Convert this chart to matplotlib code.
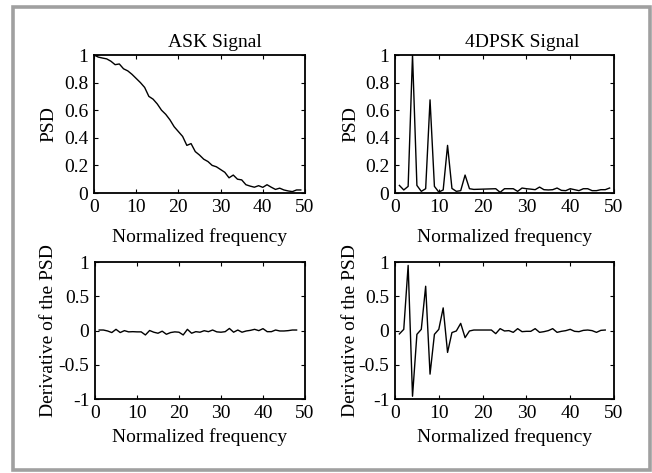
import matplotlib
matplotlib.use("Agg")
import matplotlib.pyplot as plt
from matplotlib.patches import Rectangle

plt.rcParams["font.family"] = ["Liberation Serif", "DejaVu Serif"]
plt.rcParams["font.size"] = 14
plt.rcParams["axes.unicode_minus"] = False

# ASK signal PSD (x = 0..49)
ask_x = list(range(0, 50))
ask_psd = [1.00, 0.985, 0.978, 0.972, 0.955, 0.93, 0.935, 0.90, 0.885, 0.86,
           0.83, 0.80, 0.765, 0.70, 0.68, 0.645, 0.60, 0.57, 0.53, 0.48,
           0.445, 0.41, 0.345, 0.358, 0.30, 0.275, 0.245, 0.228, 0.20, 0.19,
           0.17, 0.15, 0.11, 0.13, 0.10, 0.095, 0.06, 0.05, 0.042, 0.053,
           0.041, 0.06, 0.042, 0.026, 0.035, 0.022, 0.015, 0.01, 0.022, 0.022]

# ASK derivative (x = 1..48)
ask_dx = list(range(1, 49))
ask_deriv = [0.007, 0.007, -0.007, -0.03, 0.017, -0.03, -0.002, -0.02, -0.017, -0.02,
             -0.02, -0.065, 0.0, -0.025, -0.04, -0.01, -0.055, -0.03, -0.02, -0.025,
             -0.065, 0.017, -0.04, -0.017, -0.025, -0.003, -0.017, 0.007, -0.02, -0.025,
             -0.017, 0.03, -0.025, 0.007, -0.025, -0.007, 0.002, 0.017, -0.002, 0.027,
             -0.017, -0.017, 0.007, -0.007, -0.007, -0.002, 0.007, 0.007]

# 4DPSK signal PSD (x = 1..49)
dpsk_x = list(range(1, 50))
dpsk_psd = [0.055, 0.022, 0.048, 1.0, 0.055, 0.012, 0.031, 0.675, 0.048, 0.007,
            0.022, 0.345, 0.033, 0.012, 0.017, 0.13, 0.031, 0.026, 0.027, 0.028,
            0.029, 0.03, 0.031, 0.005, 0.031, 0.031, 0.031, 0.012, 0.036, 0.031,
            0.028, 0.024, 0.043, 0.024, 0.022, 0.024, 0.036, 0.019, 0.017, 0.031,
            0.024, 0.017, 0.031, 0.031, 0.017, 0.017, 0.024, 0.024, 0.036]

# 4DPSK derivative (x = 1..48)
dpsk_dx = list(range(1, 49))
dpsk_deriv = [-0.05, 0.017, 0.95, -0.96, -0.056, 0.017, 0.646, -0.637, -0.056, 0.017,
              0.33, -0.32, -0.03, -0.007, 0.104, -0.104, -0.007, 0.007, 0.007, 0.007,
              0.007, 0.007, -0.046, 0.027, -0.007, -0.002, -0.027, 0.027, -0.017, -0.012,
              -0.012, 0.027, -0.027, -0.017, -0.002, 0.027, -0.027, -0.012, -0.002, 0.017,
              -0.012, -0.017, 0.002, 0.007, -0.002, -0.027, 0.002, 0.007]

psd_ticks = [0, 0.2, 0.4, 0.6, 0.8, 1]
psd_labels = ["0", "0.2", "0.4", "0.6", "0.8", "1"]
der_ticks = [-1, -0.5, 0, 0.5, 1]
der_labels = ["-1", "-0.5", "0", "0.5", "1"]
x_ticks = [0, 10, 20, 30, 40, 50]

W, H = 652, 473
fig = plt.figure(figsize=(W / 100, H / 100), dpi=100)

def box(l, r, t, b):
    return [l / W, 1 - b / H, (r - l) / W, (b - t) / H]

ax_tl = fig.add_axes(box(94, 305, 55, 193))
ax_tr = fig.add_axes(box(395, 614, 55, 193))
ax_bl = fig.add_axes(box(95, 305, 262, 399))
ax_br = fig.add_axes(box(395, 614, 262, 399))

def style(ax, yticks, ylabels, ylim, ylabel, xpad, ypad):
    ax.set_xlim(0, 50)
    ax.set_ylim(*ylim)
    ax.set_xticks(x_ticks)
    ax.set_yticks(yticks)
    ax.set_yticklabels(ylabels)
    ax.tick_params(direction="in", top=True, right=True, length=3, width=0.8, pad=4)
    for s in ax.spines.values():
        s.set_linewidth(1.3)
    ax.set_xlabel("Normalized frequency", labelpad=xpad)
    ax.set_ylabel(ylabel, labelpad=ypad)

ax_tl.plot(ask_x, ask_psd, color="black", lw=1.0)
style(ax_tl, psd_ticks, psd_labels, (0, 1), "PSD", 9, 5)
ax_tr.plot(dpsk_x, dpsk_psd, color="black", lw=1.0)
style(ax_tr, psd_ticks, psd_labels, (0, 1), "PSD", 9, 4)
ax_bl.plot(ask_dx, ask_deriv, color="black", lw=1.0)
style(ax_bl, der_ticks, der_labels, (-1, 1), "Derivative of the PSD", 5, 1)
ax_br.plot(dpsk_dx, dpsk_deriv, color="black", lw=1.0)
style(ax_br, der_ticks, der_labels, (-1, 1), "Derivative of the PSD", 5, 0)

fig.text(215 / W, 1 - 47 / H, "ASK Signal", ha="center", va="baseline")
fig.text(522 / W, 1 - 47 / H, "4DPSK Signal", ha="center", va="baseline")

# gray frame around the figure
fig.patches.append(Rectangle((13.5 / W, 1 - 470 / H), (650 - 13.5) / W, (470 - 7) / H,
                             transform=fig.transFigure, fill=False,
                             edgecolor="#a0a0a0", linewidth=2.6))

fig.savefig("out.png", dpi=100)
